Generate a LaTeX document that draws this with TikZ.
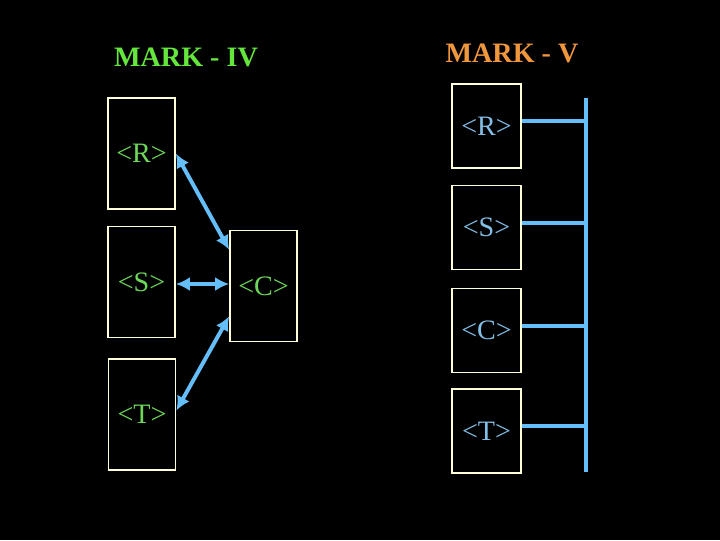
\documentclass[tikz,border=0pt]{standalone}
\usepackage{fontspec}
\setmainfont{Liberation Serif}
\usetikzlibrary{positioning,arrows.meta}

\definecolor{boxline}{RGB}{255,255,215}
\definecolor{unitgreen}{RGB}{110,215,90}
\definecolor{titlegreen}{RGB}{100,230,60}
\definecolor{titleorange}{RGB}{240,150,60}
\definecolor{linkblue}{RGB}{100,190,250}
\definecolor{unitblue}{RGB}{130,190,230}

\begin{document}
\begin{tikzpicture}[
    x=0.025cm, y=-0.025cm,
    >={Latex[length=10pt,width=10pt]},
    unit/.style={
        draw=boxline,
        line width=1.2pt,
        minimum width=1.675cm,
        minimum height=2.775cm,
        inner sep=0pt,
        font=\fontsize{20}{24}\selectfont
    },
    unitv/.style={
        unit,
        minimum width=1.725cm,
        minimum height=2.1cm
    },
    title/.style={font=\fontsize{20}{24}\selectfont\bfseries},
    link/.style={<->, linkblue, line width=2.8pt},
    bus/.style={linkblue, line width=2.8pt}
]

% --- background ---
\fill[black] (0,0) rectangle (720,540);

% --- titles ---
\node[title, text=titlegreen]  (t4) at (186,57) {MARK - IV};
\node[title, text=titleorange] (t5) at (512,53) {MARK - V};

% --- Mark IV units ---
\node[unit, text=unitgreen] (lR) at (141.5,153.5) {<R>};
\node[unit, text=unitgreen] (lS) at (141.5,282)   {<S>};
\node[unit, text=unitgreen] (lT) at (142,414.5)   {<T>};
\node[unit, text=unitgreen] (lC) at (263.5,286)   {<C>};

% --- Mark IV links (all through C) ---
\draw[link] (lR.east) -- ([yshift=-0.5cm]lC.north west);
\draw[link] ([yshift=-0.05cm]lS.east) -- ([yshift=-0.05cm]lS.east -| lC.west);
\draw[link] ([yshift=0.1cm]lT.east) -- ([yshift=0.65cm]lC.south west);

% --- Mark V units on a common bus ---
\node[unitv, text=unitblue] (rR) at (486.5,126)   {<R>};
\node[unitv, text=unitblue] (rS) at (486.5,227.5) {<S>};
\node[unitv, text=unitblue] (rC) at (486.5,330.5) {<C>};
\node[unitv, text=unitblue] (rT) at (486.5,431)   {<T>};

\coordinate (bustop) at (586,98);
\coordinate (busbot) at (586,472);
\draw[bus] (bustop) -- (busbot);

\foreach \u in {rR,rS,rC,rT}
    \draw[bus] ([yshift=0.12cm]\u.east) -- ([yshift=0.12cm]\u.east -| bustop);

\end{tikzpicture}
\end{document}
